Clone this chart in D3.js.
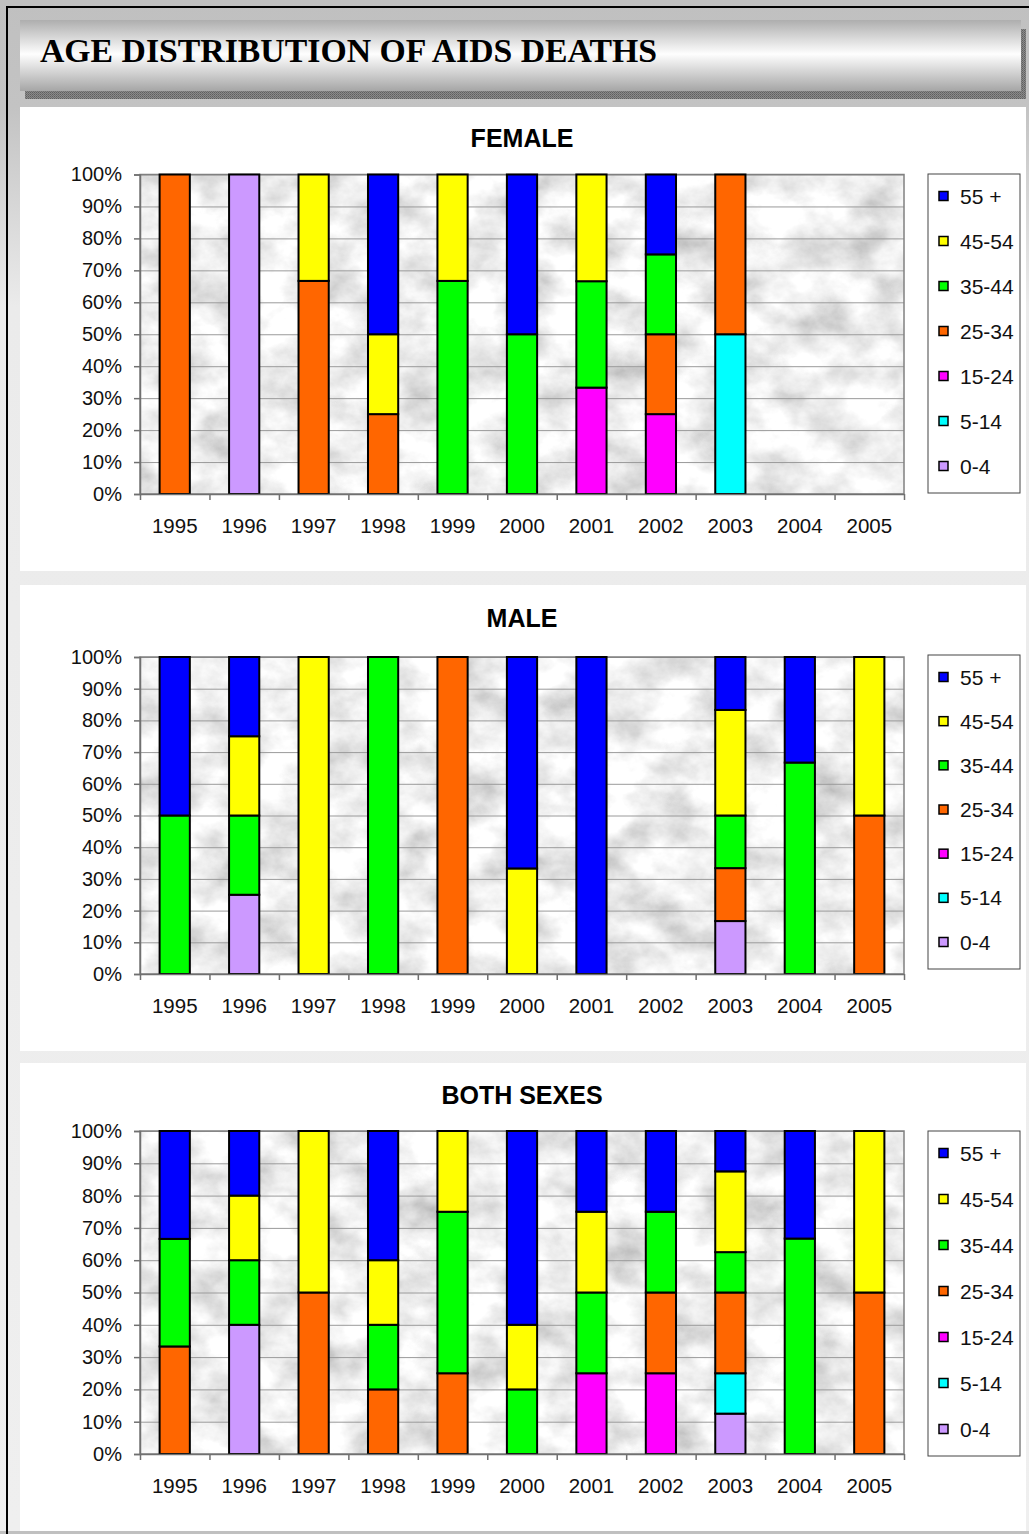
<!DOCTYPE html>
<html>
<head>
<meta charset="utf-8">
<script src="https://cdn.jsdelivr.net/npm/d3@7"></script>
<style>
body { margin: 0; background: #fff; }
svg { display: block; }
</style>
</head>
<body>
<svg id="chart"></svg>
<script>
// data (percent share of deaths per year)
var years = ["1995", "1996", "1997", "1998", "1999", "2000", "2001", "2002", "2003", "2004", "2005"];
var ageGroups = ["0-4", "5-14", "15-24", "25-34", "35-44", "45-54", "55 +"];
var ageColors = ["#cc99ff", "#00ffff", "#ff00ff", "#ff6600", "#00ff00", "#ffff00", "#0000ff"];
var yTicks = [0, 10, 20, 30, 40, 50, 60, 70, 80, 90, 100];

// rows follow ageGroups, columns follow years
var femaleShares = [
	[0, 100, 0, 0, 0, 0, 0, 0, 0, 0, 0],
	[0, 0, 0, 0, 0, 0, 0, 0, 50, 0, 0],
	[0, 0, 0, 0, 0, 0, 33.3, 25, 0, 0, 0],
	[100, 0, 66.7, 25, 0, 0, 0, 25, 50, 0, 0],
	[0, 0, 0, 0, 66.7, 50, 33.3, 25, 0, 0, 0],
	[0, 0, 33.3, 25, 33.3, 0, 33.4, 0, 0, 0, 0],
	[0, 0, 0, 50, 0, 50, 0, 25, 0, 0, 0]
];
var maleShares = [
	[0, 25, 0, 0, 0, 0, 0, 0, 16.7, 0, 0],
	[0, 0, 0, 0, 0, 0, 0, 0, 0, 0, 0],
	[0, 0, 0, 0, 0, 0, 0, 0, 0, 0, 0],
	[0, 0, 0, 0, 100, 0, 0, 0, 16.7, 0, 50],
	[50, 25, 0, 100, 0, 0, 0, 0, 16.6, 66.7, 0],
	[0, 25, 100, 0, 0, 33.3, 0, 0, 33.3, 0, 50],
	[50, 25, 0, 0, 0, 66.7, 100, 0, 16.7, 33.3, 0]
];
var bothShares = [
	[0, 40, 0, 0, 0, 0, 0, 0, 12.5, 0, 0],
	[0, 0, 0, 0, 0, 0, 0, 0, 12.5, 0, 0],
	[0, 0, 0, 0, 0, 0, 25, 25, 0, 0, 0],
	[33.3, 0, 50, 20, 25, 0, 0, 25, 25, 0, 50],
	[33.3, 20, 0, 20, 50, 20, 25, 25, 12.5, 66.7, 0],
	[0, 20, 50, 20, 25, 20, 25, 0, 25, 0, 50],
	[33.4, 20, 0, 40, 0, 60, 25, 25, 12.5, 33.3, 0]
];

var width = 1029;
var height = 1534;
var plotLeft = 140;
var plotRight = 904;

var panels = [
	{ title: "FEMALE", shares: femaleShares, top: 107, bottom: 571, titleY: 147, plotTop: 174.5, plotBottom: 494, legTop: 174, legBottom: 493 },
	{ title: "MALE", shares: maleShares, top: 585, bottom: 1051, titleY: 627, plotTop: 657, plotBottom: 974, legTop: 655, legBottom: 969 },
	{ title: "BOTH SEXES", shares: bothShares, top: 1063, bottom: 1531, titleY: 1104, plotTop: 1131, plotBottom: 1454, legTop: 1131, legBottom: 1456 }
];

var svg = d3.select("#chart")
	.attr("width", width)
	.attr("height", height);

var defs = svg.append("defs");

var bg = defs.append("linearGradient")
	.attr("id", "bg")
	.attr("gradientUnits", "userSpaceOnUse")
	.attr("x1", 0).attr("y1", 0).attr("x2", 0).attr("y2", height);
bg.append("stop").attr("offset", 0).attr("stop-color", "#c0c0c0");
bg.append("stop").attr("offset", 0.07).attr("stop-color", "#c3c3c3");
bg.append("stop").attr("offset", 0.2).attr("stop-color", "#ebebeb");
bg.append("stop").attr("offset", 1).attr("stop-color", "#efefef");

var band = defs.append("linearGradient")
	.attr("id", "banner")
	.attr("x1", 0).attr("y1", 0).attr("x2", 0).attr("y2", 1);
band.append("stop").attr("offset", 0).attr("stop-color", "#aeaeae");
band.append("stop").attr("offset", 0.48).attr("stop-color", "#fefefe");
band.append("stop").attr("offset", 1).attr("stop-color", "#a6a6a6");

var dots = defs.append("pattern")
	.attr("id", "dots")
	.attr("patternUnits", "userSpaceOnUse")
	.attr("width", 2).attr("height", 2);
dots.append("rect").attr("width", 2).attr("height", 2).attr("fill", "#8a8a8a");
dots.append("rect").attr("width", 1).attr("height", 1).attr("fill", "#5e5e5e");
dots.append("rect").attr("x", 1).attr("y", 1).attr("width", 1).attr("height", 1).attr("fill", "#6e6e6e");

var marble = defs.append("filter")
	.attr("id", "marble")
	.attr("x", 0).attr("y", 0).attr("width", 1).attr("height", 1);
marble.append("feTurbulence")
	.attr("type", "fractalNoise")
	.attr("baseFrequency", "0.02 0.026")
	.attr("numOctaves", 5)
	.attr("seed", 7);
marble.append("feColorMatrix")
	.attr("type", "matrix")
	.attr("values", "0.85 0 0 0 0.44  0.85 0 0 0 0.44  0.85 0 0 0 0.44  0 0 0 0 1");

// page background and frame
svg.append("rect")
	.attr("width", width)
	.attr("height", height)
	.attr("fill", "url(#bg)");
svg.append("rect")
	.attr("x", 0).attr("y", 1531)
	.attr("width", width).attr("height", 3)
	.attr("fill", "#c0c0c0");
svg.append("path")
	.attr("d", "M7," + height + "V7H" + width)
	.attr("fill", "none")
	.attr("stroke", "#000")
	.attr("stroke-width", 2);

// title banner
svg.append("rect")
	.attr("x", 25).attr("y", 29)
	.attr("width", 1001).attr("height", 70)
	.attr("fill", "url(#dots)");
svg.append("rect")
	.attr("x", 20).attr("y", 20)
	.attr("width", 1001).attr("height", 71)
	.attr("fill", "url(#banner)");
svg.append("text")
	.attr("x", 40)
	.attr("y", 62)
	.attr("textLength", 617)
	.attr("lengthAdjust", "spacingAndGlyphs")
	.style("font-family", "'Liberation Serif', 'Times New Roman', serif")
	.style("font-weight", "bold")
	.style("font-size", "33px")
	.attr("fill", "#000")
	.text("AGE DISTRIBUTION OF AIDS DEATHS");

var xScale = d3.scaleBand()
	.domain(years)
	.range([plotLeft, plotRight])
	.paddingInner(0.565)
	.paddingOuter(0.2825);
var xEdge = d3.scaleLinear()
	.domain([0, years.length])
	.range([plotLeft, plotRight]);

panels.forEach(function (p) {
	var g = svg.append("g");

	g.append("rect")
		.attr("x", 20).attr("y", p.top)
		.attr("width", 1006).attr("height", p.bottom - p.top)
		.attr("fill", "#fff");

	g.append("text")
		.attr("x", (plotLeft + plotRight) / 2)
		.attr("y", p.titleY)
		.attr("text-anchor", "middle")
		.style("font-family", "'Liberation Sans', Arial, sans-serif")
		.style("font-weight", "bold")
		.style("font-size", "25px")
		.text(p.title);

	var yScale = d3.scaleLinear()
		.domain([0, 100])
		.range([p.plotBottom, p.plotTop]);

	// marble plot area
	g.append("rect")
		.attr("x", plotLeft).attr("y", p.plotTop)
		.attr("width", plotRight - plotLeft).attr("height", p.plotBottom - p.plotTop)
		.attr("filter", "url(#marble)");

	// gridlines
	var grid = g.append("g")
		.attr("transform", "translate(" + plotLeft + ",0)")
		.call(d3.axisLeft(yScale).tickValues(yTicks).tickSize(-(plotRight - plotLeft)).tickFormat(""));
	grid.select(".domain").remove();
	grid.selectAll("line").attr("stroke", "#9a9a9a").attr("stroke-width", 1);

	g.append("rect")
		.attr("x", plotLeft).attr("y", p.plotTop)
		.attr("width", plotRight - plotLeft).attr("height", p.plotBottom - p.plotTop)
		.attr("fill", "none")
		.attr("stroke", "#808080")
		.attr("stroke-width", 1.5);

	// stacked bars
	var rows = years.map(function (y, i) {
		var row = { year: y };
		ageGroups.forEach(function (a, k) {
			row[a] = p.shares[k][i];
		});
		return row;
	});
	var stacked = d3.stack().keys(ageGroups)(rows);

	g.selectAll("g.series")
		.data(stacked)
		.enter()
		.append("g")
		.attr("fill", function (d, k) {
			return ageColors[k];
		})
		.selectAll("rect")
		.data(function (d) {
			return d.filter(function (s) {
				return s[1] - s[0] > 0;
			});
		})
		.enter()
		.append("rect")
		.attr("x", function (d) {
			return xScale(d.data.year);
		})
		.attr("width", xScale.bandwidth())
		.attr("y", function (d) {
			return yScale(d[1]);
		})
		.attr("height", function (d) {
			return yScale(d[0]) - yScale(d[1]);
		})
		.attr("stroke", "#000")
		.attr("stroke-width", 2);

	// axes
	var yAxis = g.append("g")
		.attr("transform", "translate(" + plotLeft + ",0)")
		.call(d3.axisLeft(yScale).tickValues(yTicks).tickSize(6).tickPadding(12).tickFormat(function (d) {
			return d + "%";
		}));
	yAxis.select(".domain").attr("stroke", "#707070").attr("stroke-width", 1.5);
	yAxis.selectAll("line").attr("stroke", "#707070").attr("stroke-width", 1.5);
	yAxis.selectAll("text")
		.attr("fill", "#111")
		.style("font-family", "'Liberation Sans', Arial, sans-serif")
		.style("font-size", "20px");

	var xTicks = g.append("g")
		.attr("transform", "translate(0," + p.plotBottom + ")")
		.call(d3.axisBottom(xEdge).ticks(years.length).tickSize(6).tickSizeOuter(0).tickFormat(""));
	xTicks.select(".domain").attr("stroke", "#707070").attr("stroke-width", 1.5);
	xTicks.selectAll("line").attr("stroke", "#707070").attr("stroke-width", 1.5);

	var xAxis = g.append("g")
		.attr("transform", "translate(0," + p.plotBottom + ")")
		.call(d3.axisBottom(xScale).tickSize(0).tickPadding(24));
	xAxis.select(".domain").remove();
	xAxis.selectAll("text")
		.attr("fill", "#111")
		.style("font-family", "'Liberation Sans', Arial, sans-serif")
		.style("font-size", "20.5px");

	// legend
	var legX = 928;
	var legW = 92;
	var legH = p.legBottom - p.legTop;
	var step = (legH - 49) / 6;
	g.append("rect")
		.attr("x", legX).attr("y", p.legTop)
		.attr("width", legW).attr("height", legH)
		.attr("fill", "#fff")
		.attr("stroke", "#444")
		.attr("stroke-width", 1);

	var items = g.selectAll("g.leg")
		.data(ageGroups.slice().reverse())
		.enter()
		.append("g")
		.attr("transform", function (d, i) {
			return "translate(" + legX + "," + (p.legTop + 22 + i * step) + ")";
		});
	items.append("rect")
		.attr("x", 11).attr("y", -4.5)
		.attr("width", 9).attr("height", 9)
		.attr("fill", function (d) {
			return ageColors[ageGroups.indexOf(d)];
		})
		.attr("stroke", "#000")
		.attr("stroke-width", 1.5);
	items.append("text")
		.attr("x", 32)
		.attr("dy", "0.36em")
		.attr("fill", "#111")
		.style("font-family", "'Liberation Sans', Arial, sans-serif")
		.style("font-size", "21px")
		.text(function (d) {
			return d;
		});
});
</script>
</body>
</html>
